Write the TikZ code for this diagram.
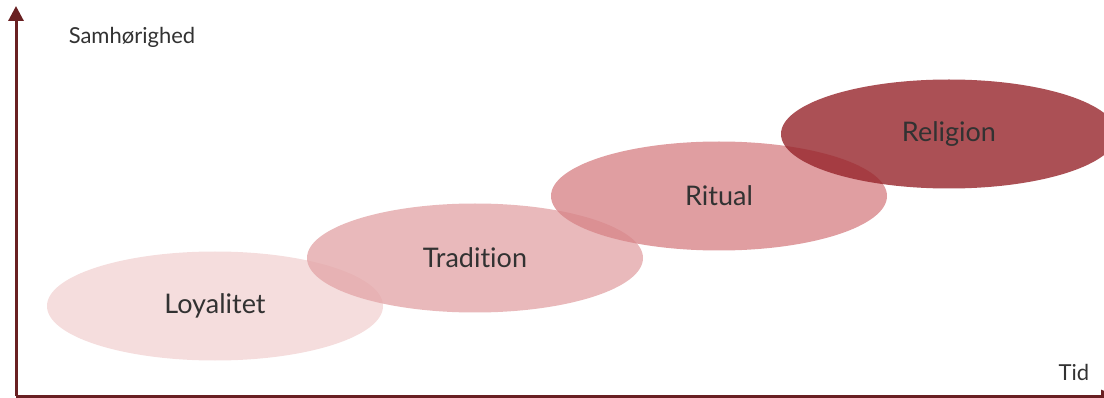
\documentclass[tikz,border=0pt]{standalone}
\usepackage{fontspec}
\setmainfont{Lato}[Ligatures=NoCommon]
\usetikzlibrary{shapes.geometric,arrows.meta}
\definecolor{axisred}{RGB}{105,32,34}
\definecolor{loyal}{RGB}{242,212,212}
\definecolor{trad}{RGB}{228,168,170}
\definecolor{rit}{RGB}{216,134,138}
\definecolor{relig}{RGB}{150,36,42}
\definecolor{txt}{RGB}{50,50,50}

\begin{document}
\begin{tikzpicture}[x=1pt,y=-1pt,
  axis/.style={line width=3pt,draw=axisred},
  stage/.style={ellipse,minimum width=336pt,minimum height=109pt,inner sep=0pt,
    fill opacity=0.8,text opacity=1,text=txt,font=\fontsize{27}{32}\selectfont},
  axislabel/.style={text=txt,font=\fontsize{22}{26}\selectfont}]
\useasboundingbox (0,0) rectangle (1104,398);
\clip (0,0) rectangle (1104,398);
% axes
\coordinate (O) at (16,396);
\coordinate (ytop) at (16,6);
\coordinate (xend) at (1116,396);
\draw[axis,-{Triangle[length=15pt,width=15pt]}] (O) -- (ytop);
\draw[axis,-{Triangle[length=15pt,width=12pt]}] (O) -- (xend);
\node[axislabel] (samh) at (132,37) {Samhørighed};
\node[axislabel] (tid) at (1074,372) {Tid};
% stages
\node[stage,fill=loyal] (loyal) at (215,306) {Loyalitet};
\node[stage,fill=trad] (trad) at (475,258) {Tradition};
\node[stage,fill=rit] (rit) at (719,196) {Ritual};
\node[stage,fill=relig] (relig) at (949,134) {Religion};
\end{tikzpicture}
\end{document}
